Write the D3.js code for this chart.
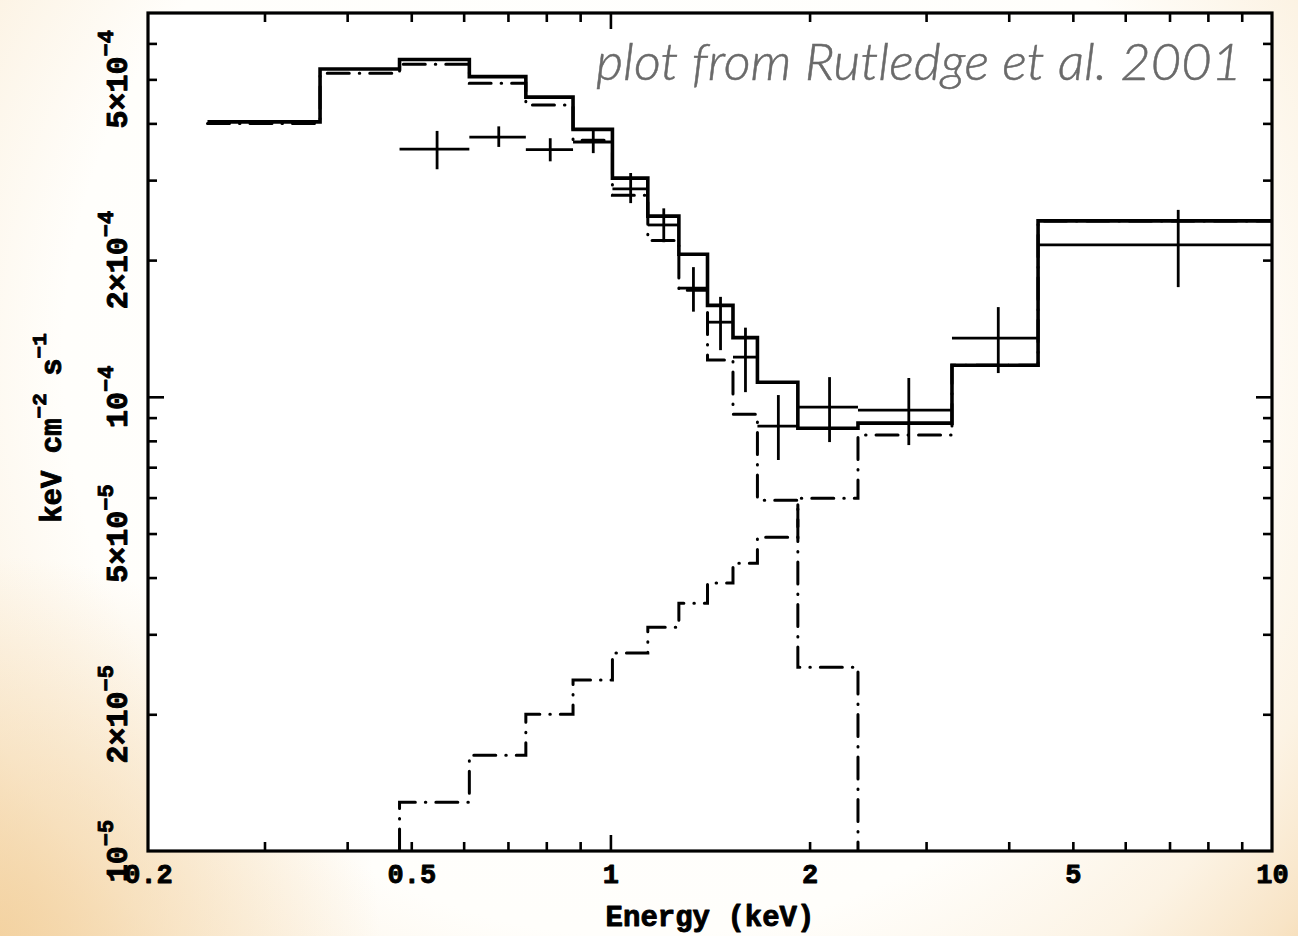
<!DOCTYPE html>
<html>
<head>
<meta charset="utf-8">
<script src="https://cdn.jsdelivr.net/npm/d3@7"></script>
<style>
  html, body { margin: 0; padding: 0; }
  body { width: 1298px; height: 936px; overflow: hidden; background: #fdf8ef; }
  svg { display: block; }
</style>
</head>
<body>
<svg id="chart" width="1298" height="936"></svg>
<script>
// Energy bin edges (keV) shared by the model histograms and the data
const binEdges = [0.246, 0.364, 0.48, 0.612, 0.745, 0.878, 1.007, 1.139, 1.269,
                  1.402, 1.532, 1.668, 1.92, 2.367, 3.283, 4.43, 10.0];

// Total model, one value per bin (keV cm^-2 s^-1)
const totalModel = [4.03e-4, 5.27e-4, 5.53e-4, 5.07e-4, 4.57e-4, 3.88e-4, 3.03e-4, 2.50e-4,
                    2.06e-4, 1.59e-4, 1.35e-4, 1.077e-4, 8.53e-5, 8.75e-5, 1.174e-4, 2.44e-4];

// Thermal component, bins 0.246 – 2.367 keV (falls below the plot above that)
const thermalModel = [4.0e-4, 5.16e-4, 5.40e-4, 4.90e-4, 4.39e-4, 3.67e-4, 2.78e-4, 2.21e-4,
                      1.717e-4, 1.205e-4, 9.16e-5, 5.92e-5, 2.54e-5];

// Power-law component, bins from 0.48 keV upward (below the plot before that)
const powerLawModel = [1.28e-5, 1.625e-5, 2.0e-5, 2.38e-5, 2.73e-5, 3.11e-5, 3.51e-5, 3.89e-5,
                       4.30e-5, 4.91e-5, 5.98e-5, 8.24e-5, 1.174e-4, 2.44e-4];

// Unfolded spectrum: bin centre, bin limits, flux and 1-sigma flux range
const dataEnergy = [0.547, 0.678, 0.811, 0.942, 1.073, 1.204, 1.335, 1.467, 1.600, 1.794, 2.144, 2.825, 3.857, 7.215];
const dataBinLo  = [0.48, 0.612, 0.745, 0.878, 1.007, 1.139, 1.269, 1.402, 1.532, 1.668, 1.92, 2.367, 3.283, 4.43];
const dataBinHi  = [0.612, 0.745, 0.878, 1.007, 1.139, 1.269, 1.402, 1.532, 1.668, 1.92, 2.367, 3.283, 4.43, 10.0];
const dataFlux   = [3.51e-4, 3.73e-4, 3.50e-4, 3.64e-4, 2.87e-4, 2.39e-4, 1.735e-4, 1.46e-4,
                    1.223e-4, 8.62e-5, 9.49e-5, 9.35e-5, 1.346e-4, 2.16e-4];
const dataFluxHi = [3.85e-4, 3.94e-4, 3.71e-4, 3.90e-4, 3.11e-4, 2.60e-4, 1.93e-4, 1.66e-4,
                    1.42e-4, 1.009e-4, 1.105e-4, 1.10e-4, 1.576e-4, 2.58e-4];
const dataFluxLo = [3.17e-4, 3.55e-4, 3.30e-4, 3.44e-4, 2.67e-4, 2.19e-4, 1.54e-4, 1.267e-4,
                    1.024e-4, 7.26e-5, 7.95e-5, 7.83e-5, 1.128e-4, 1.744e-4];

// Axis ticks and labels
const xMinorTicks = [0.3, 0.4, 0.5, 0.6, 0.7, 0.8, 0.9, 2, 3, 4, 5, 6, 7, 8, 9];
const xMajorTicks = [1];
const xTickLabels = [0.2, 0.5, 1, 2, 5, 10];
const yMinorTicks = [2e-5, 3e-5, 4e-5, 5e-5, 6e-5, 7e-5, 8e-5, 9e-5, 2e-4, 3e-4, 4e-4, 5e-4, 6e-4];
const yMajorTicks = [1e-4];
const yTickLabels = [
  { v: 1e-5, mant: "", exp: "\u22125" },
  { v: 2e-5, mant: "2\u00d7", exp: "\u22125" },
  { v: 5e-5, mant: "5\u00d7", exp: "\u22125" },
  { v: 1e-4, mant: "", exp: "\u22124" },
  { v: 2e-4, mant: "2\u00d7", exp: "\u22124" },
  { v: 5e-4, mant: "5\u00d7", exp: "\u22124" }
];

const W = 1298, H = 936;
const plot = { left: 148, right: 1272, top: 13, bottom: 851 };
const labelFont = "'Liberation Mono', 'DejaVu Sans Mono', monospace";

const svg = d3.select("#chart");
const defs = svg.append("defs");

// page backdrop: warm peach vignette around a white centre
const bg = defs.append("radialGradient").attr("id", "bgGlow")
  .attr("gradientUnits", "userSpaceOnUse")
  .attr("cx", 640).attr("cy", 360).attr("r", 930);
[[0, "#ffffff"], [0.62, "#fffefb"], [0.8, "#fcf3e4"], [0.92, "#f8e4c6"], [1, "#f4d5a6"]]
  .forEach(([o, c]) => bg.append("stop").attr("offset", o).attr("stop-color", c));
svg.append("rect").attr("width", W).attr("height", H).attr("fill", "url(#bgGlow)");

// stronger warmth in the lower-left corner
const corner = defs.append("radialGradient").attr("id", "cornerGlow")
  .attr("gradientUnits", "userSpaceOnUse")
  .attr("cx", 0).attr("cy", H).attr("r", 380);
corner.append("stop").attr("offset", 0).attr("stop-color", "#f2cd96").attr("stop-opacity", 0.75);
corner.append("stop").attr("offset", 1).attr("stop-color", "#f2cd96").attr("stop-opacity", 0);
svg.append("rect").attr("width", W).attr("height", H).attr("fill", "url(#cornerGlow)");

svg.append("rect").attr("x", plot.left).attr("y", plot.top)
  .attr("width", plot.right - plot.left).attr("height", plot.bottom - plot.top)
  .attr("fill", "#ffffff");

defs.append("clipPath").attr("id", "plotClip").append("rect")
  .attr("x", plot.left).attr("y", plot.top)
  .attr("width", plot.right - plot.left).attr("height", plot.bottom - plot.top);

// scales
const x = d3.scaleLog().domain([0.2, 10]).range([plot.left, plot.right]);
const y = d3.scaleLog().domain([1e-5, 7e-4]).range([plot.bottom, plot.top]);
const floorValue = y.domain()[0];

// histogram paths: value i spans binEdges[i]..binEdges[i+1]
const step = d3.line().x(d => x(d[0])).y(d => y(d[1])).curve(d3.curveStepAfter);
function histPoints(edges, values, fromFloor, toFloor) {
  const pts = [];
  if (fromFloor) pts.push([edges[0], floorValue]);
  values.forEach((v, i) => pts.push([edges[i], v]));
  pts.push([edges[values.length], values[values.length - 1]]);
  if (toFloor) pts.push([edges[values.length], floorValue]);
  return pts;
}

const g = svg.append("g").attr("clip-path", "url(#plotClip)");

// components (dash-dot)
const compDash = "22,10,0.5,10";
g.append("path")
  .attr("d", step(histPoints(binEdges.slice(0, thermalModel.length + 1), thermalModel, false, true)))
  .attr("fill", "none").attr("stroke", "#000").attr("stroke-width", 3)
  .attr("stroke-linecap", "round").attr("stroke-dasharray", compDash);
g.append("path")
  .attr("d", step(histPoints(binEdges.slice(2), powerLawModel, true, false)))
  .attr("fill", "none").attr("stroke", "#000").attr("stroke-width", 3)
  .attr("stroke-linecap", "round").attr("stroke-dasharray", compDash);

// total model
g.append("path")
  .attr("d", step(histPoints(binEdges, totalModel, false, false)))
  .attr("fill", "none").attr("stroke", "#000").attr("stroke-width", 3.6);

// data crosses
const pts = dataEnergy.map((e, i) => ({
  e, lo: dataBinLo[i], hi: dataBinHi[i], f: dataFlux[i], fHi: dataFluxHi[i], fLo: dataFluxLo[i]
}));
const cross = g.append("g").attr("stroke", "#000").attr("stroke-width", 2.8);
cross.selectAll("line.h").data(pts).join("line").attr("class", "h")
  .attr("x1", d => x(d.lo)).attr("x2", d => x(d.hi))
  .attr("y1", d => y(d.f)).attr("y2", d => y(d.f));
cross.selectAll("line.v").data(pts).join("line").attr("class", "v")
  .attr("x1", d => x(d.e)).attr("x2", d => x(d.e))
  .attr("y1", d => y(d.fLo)).attr("y2", d => y(d.fHi));

// inward ticks on all four sides
function tickAxis(axis, transform, values, size) {
  const a = svg.append("g").attr("transform", transform)
    .call(axis.tickValues(values).tickSize(size).tickFormat(""));
  a.select(".domain").remove();
  a.selectAll(".tick line").attr("stroke", "#000").attr("stroke-width", 2.6);
  return a;
}
const minorLen = 9, majorLen = 16;
tickAxis(d3.axisBottom(x), `translate(0,${plot.bottom})`, xMinorTicks, -minorLen);
tickAxis(d3.axisBottom(x), `translate(0,${plot.bottom})`, xMajorTicks, -majorLen);
tickAxis(d3.axisTop(x), `translate(0,${plot.top})`, xMinorTicks, -minorLen);
tickAxis(d3.axisTop(x), `translate(0,${plot.top})`, xMajorTicks, -majorLen);
tickAxis(d3.axisLeft(y), `translate(${plot.left},0)`, yMinorTicks, -minorLen);
tickAxis(d3.axisLeft(y), `translate(${plot.left},0)`, yMajorTicks, -majorLen);
tickAxis(d3.axisRight(y), `translate(${plot.right},0)`, yMinorTicks, -minorLen);
tickAxis(d3.axisRight(y), `translate(${plot.right},0)`, yMajorTicks, -majorLen);

// frame
svg.append("rect").attr("x", plot.left).attr("y", plot.top)
  .attr("width", plot.right - plot.left).attr("height", plot.bottom - plot.top)
  .attr("fill", "none").attr("stroke", "#000").attr("stroke-width", 3.2);

// heavy monospace lettering for the axes
function heavy(sel, size) {
  return sel.attr("font-family", labelFont).attr("font-weight", "bold")
    .attr("font-size", size).attr("fill", "#000")
    .attr("stroke", "#000").attr("stroke-width", 0.9).attr("stroke-linejoin", "round");
}

// x tick labels
const xLab = svg.append("g").attr("transform", `translate(0,${plot.bottom})`)
  .call(d3.axisBottom(x).tickValues(xTickLabels).tickSize(0).tickPadding(13)
    .tickFormat(d3.format("~g")));
xLab.select(".domain").remove();
heavy(xLab.selectAll("text"), 27);

// y tick labels, rotated, with superscript exponents
const yLabG = svg.append("g");
yTickLabels.forEach(t => {
  const ty = y(t.v);
  const txt = heavy(yLabG.append("text"), 30)
    .attr("transform", `translate(127,${ty}) rotate(-90)`)
    .attr("text-anchor", "middle");
  txt.append("tspan").text(t.mant + "10");
  txt.append("tspan").attr("font-size", 22).attr("dy", "-0.62em").text(t.exp);
});

// axis titles
heavy(svg.append("text"), 29)
  .attr("x", (plot.left + plot.right) / 2).attr("y", 926)
  .attr("text-anchor", "middle")
  .text("Energy (keV)");

const yTitle = heavy(svg.append("text"), 29)
  .attr("transform", `translate(61,${(plot.top + plot.bottom) / 2 - 4}) rotate(-90)`)
  .attr("text-anchor", "middle");
yTitle.append("tspan").text("keV cm");
yTitle.append("tspan").attr("font-size", 21).attr("dy", "-0.7em").text("\u22122");
yTitle.append("tspan").attr("dy", "0.5em").text(" s");
yTitle.append("tspan").attr("font-size", 21).attr("dy", "-0.7em").text("\u22121");

// credit line
svg.append("text")
  .attr("x", 596).attr("y", 80)
  .attr("font-family", "Lato, 'Open Sans', sans-serif")
  .attr("font-style", "italic").attr("font-weight", 300)
  .attr("font-size", 51).attr("fill", "#6a6a6a")
  .attr("stroke", "#6a6a6a").attr("stroke-width", 0.5)
  .attr("textLength", 646).attr("lengthAdjust", "spacingAndGlyphs")
  .text("plot from Rutledge et al. 2001");
</script>
</body>
</html>
